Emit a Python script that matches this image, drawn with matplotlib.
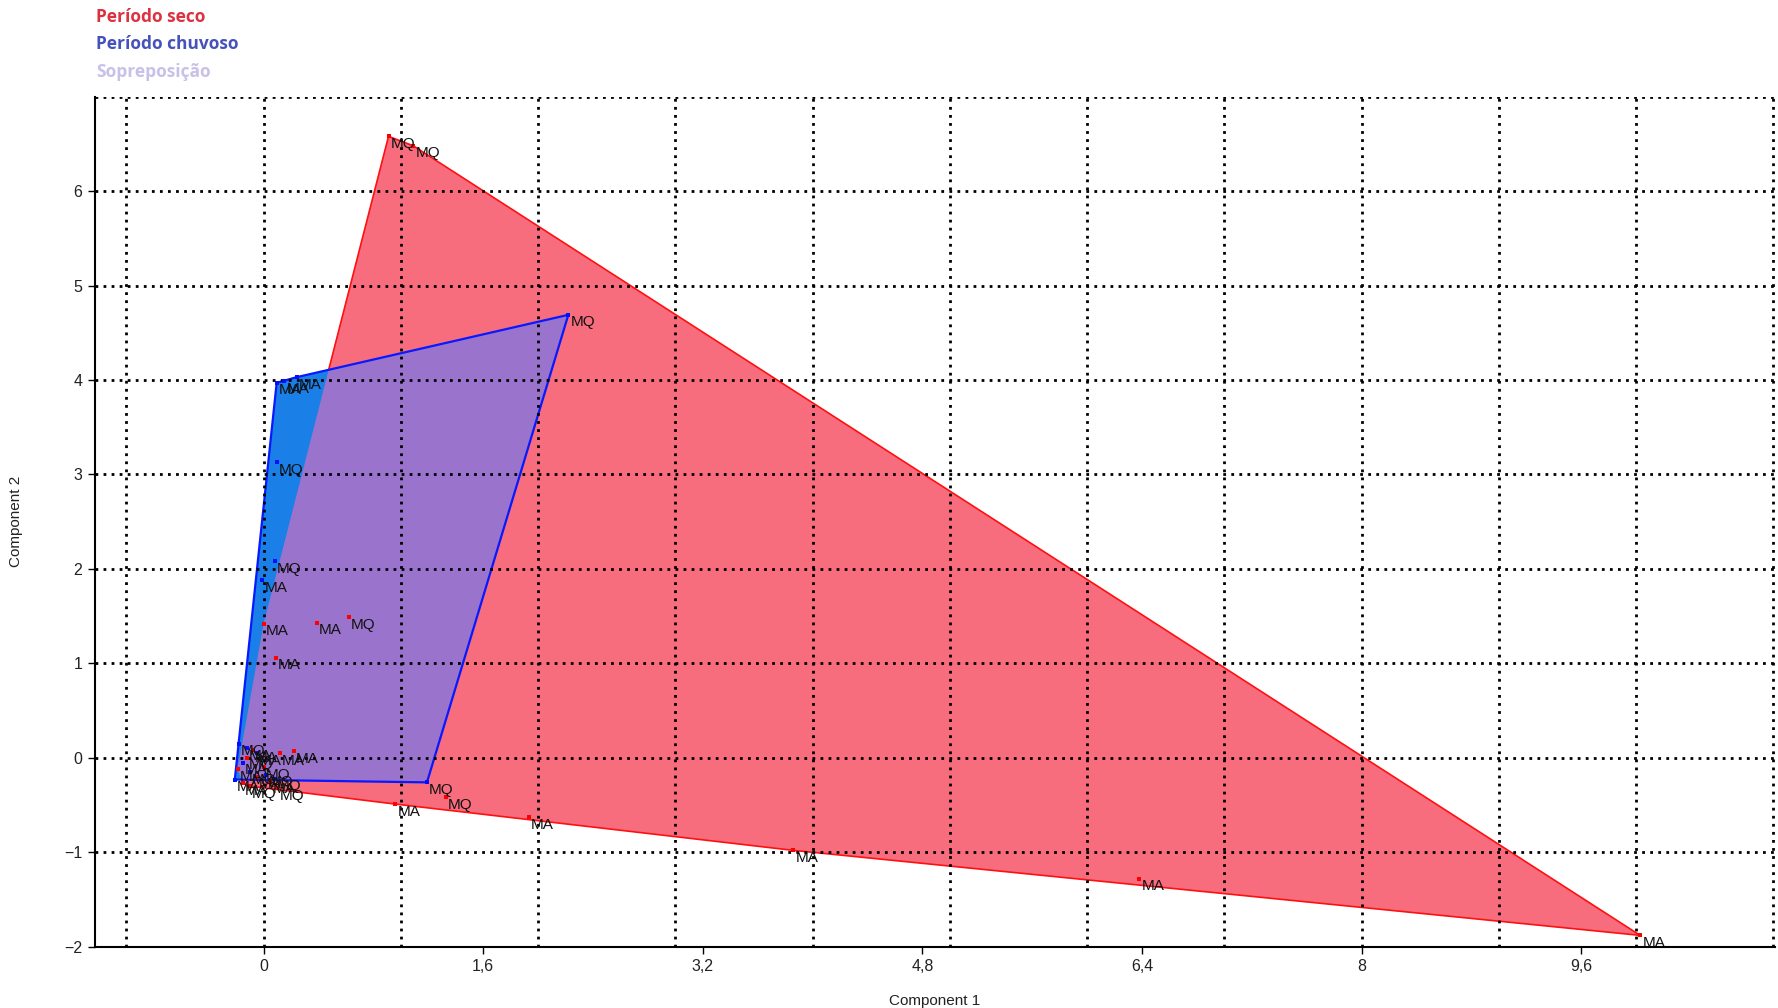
import numpy as np
import matplotlib
matplotlib.use("Agg")
import matplotlib.pyplot as plt
from matplotlib.patches import Polygon

plt.rcParams['font.family'] = ['Liberation Sans', 'DejaVu Sans']

# scores do periodo seco (component 1, component 2) e rotulos
seco_x = [0.91, 1.09, 10.03, 6.38, 3.86, 1.93, 0.96, 1.33, 0.00, 0.39, 0.62, 0.09,
          0.12, 0.22, -0.19, -0.15, -0.10, -0.05, 0.00, -0.12, 0.05, 0.10, -0.08]
seco_y = [6.58, 6.48, -1.88, -1.28, -0.98, -0.63, -0.49, -0.42, 1.42, 1.43, 1.49, 1.06,
          0.05, 0.07, -0.12, -0.27, -0.30, -0.20, -0.10, 0.00, -0.25, -0.32, 0.08]
seco_lab = ["MQ", "MQ", "MA", "MA", "MA", "MA", "MA", "MQ", "MA", "MA", "MQ", "MA",
            "MA", "MA", "MA", "MA", "MQ", "MA", "MQ", "MQ", "MA", "MQ", "MA"]

# scores do periodo chuvoso
chuv_x = [2.22, 1.19, 0.095, 0.15, 0.24, 0.095, 0.083, -0.01, -0.21, -0.18,
          -0.15, -0.10, -0.05, 0.02, -0.12, 0.08]
chuv_y = [4.69, -0.26, 3.97, 3.99, 4.03, 3.13, 2.08, 1.88, -0.23, 0.15,
          -0.05, -0.15, 0.05, -0.18, 0.10, -0.22]
chuv_lab = ["MQ", "MQ", "MA", "MA", "MA", "MQ", "MQ", "MA", "MA", "MQ",
            "MA", "MQ", "MA", "MQ", "MA", "MQ"]

x_ticks = [0, 1.6, 3.2, 4.8, 6.4, 8, 9.6]
x_ticklabels = ["0", "1,6", "3,2", "4,8", "6,4", "8", "9,6"]
y_ticks = [-2, -1, 0, 1, 2, 3, 4, 5, 6]


def convex_hull(xs, ys):
    pts = sorted(set(zip(xs, ys)))

    def cross(o, a, b):
        return (a[0] - o[0]) * (b[1] - o[1]) - (a[1] - o[1]) * (b[0] - o[0])

    lower = []
    for p in pts:
        while len(lower) >= 2 and cross(lower[-2], lower[-1], p) <= 0:
            lower.pop()
        lower.append(p)
    upper = []
    for p in reversed(pts):
        while len(upper) >= 2 and cross(upper[-2], upper[-1], p) <= 0:
            upper.pop()
        upper.append(p)
    return np.array(lower[:-1] + upper[:-1])


fig = plt.figure(figsize=(17.78, 10.08), dpi=100)
ax = fig.add_axes([0.0534, 0.0608, 0.9449, 0.8433])

hull_seco = convex_hull(seco_x, seco_y)
hull_chuv = convex_hull(chuv_x, chuv_y)

red_fill = Polygon(hull_seco, closed=True, facecolor="#f76d7e", edgecolor="none", zorder=1)
ax.add_patch(red_fill)
ax.add_patch(Polygon(hull_seco, closed=True, fill=False, edgecolor="#ff1010", lw=1.2, zorder=1.1))
ax.add_patch(Polygon(hull_chuv, closed=True, facecolor="#1a80e8", edgecolor="none", zorder=1.2))
# sobreposicao: casco chuvoso recortado pelo casco seco
over = Polygon(hull_chuv, closed=True, facecolor="#9a74cc", edgecolor="none", zorder=1.3)
ax.add_patch(over)
over.set_clip_path(red_fill)
ax.add_patch(Polygon(hull_chuv, closed=True, fill=False, edgecolor="#0818ff", lw=1.6, zorder=1.4))

ax.scatter(seco_x, seco_y, s=10, marker="s", color="#ff0000", lw=0, zorder=3)
ax.scatter(chuv_x, chuv_y, s=10, marker="s", color="#0010ff", lw=0, zorder=3)
for xs, ys, labs in [(seco_x, seco_y, seco_lab), (chuv_x, chuv_y, chuv_lab)]:
    for x, y, t in zip(xs, ys, labs):
        ax.annotate(t, (x, y), xytext=(1.5, -5.5), textcoords="offset points",
                    ha="left", va="center", fontsize=11, color="#111111", zorder=4)

ax.set_xlim(-1.229, 11.012)
ax.set_ylim(-2, 7)
ax.set_xticks(x_ticks)
ax.set_xticklabels(x_ticklabels)
ax.set_yticks(y_ticks)
# grade pontilhada nos inteiros, independente dos ticks
ax.xaxis.remove_overlapping_locs = False
ax.yaxis.remove_overlapping_locs = False
ax.set_xticks(range(-1, 12), minor=True)
ax.set_yticks(range(-2, 8), minor=True)
ax.tick_params(which="major", direction="out", length=5, width=1, labelsize=11.5,
               labelcolor="#222222", pad=4)
ax.tick_params(which="minor", length=0)
ax.set_axisbelow(False)
ax.grid(which="minor", color="black", linestyle=(0, (1, 1.9)), linewidth=2.0)
ax.grid(which="major", visible=False)

for side in ["top", "right"]:
    ax.spines[side].set_visible(False)
for side in ["left", "bottom"]:
    ax.spines[side].set_linewidth(1.5)
    ax.spines[side].set_zorder(5)

ax.set_xlabel("Component 1", fontsize=11, color="#222222", labelpad=14)
ax.set_ylabel("Component 2", fontsize=11, color="#222222", labelpad=30)

fig.text(0.054, 0.983, "Período seco", fontsize=12.5, fontweight="bold",
         family=["Open Sans", "DejaVu Sans"], color="#dc3240", va="center")
fig.text(0.054, 0.956, "Período chuvoso", fontsize=12.5, fontweight="bold",
         family=["Open Sans", "DejaVu Sans"], color="#4552bc", va="center")
fig.text(0.054, 0.929, "Sopreposição", fontsize=12.5, fontweight="bold",
         family=["Open Sans", "DejaVu Sans"], color="#c8c0e8", va="center")

fig.savefig("out.png", dpi=100)
